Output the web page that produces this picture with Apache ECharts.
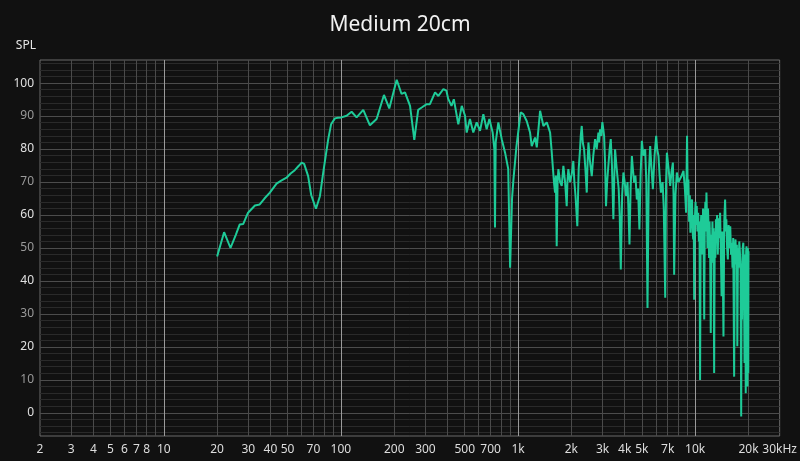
<!DOCTYPE html>
<html>
<head>
<meta charset="utf-8">
<script src="https://cdn.jsdelivr.net/npm/echarts@6/dist/echarts.min.js"></script>
<style>
html,body{margin:0;padding:0;background:#111111;}
#chart{width:800px;height:461px;}
</style>
</head>
<body>
<div id="chart"></div>
<script>
var chartTitle = 'Medium 20cm';
var yName = 'SPL';
var xLabelValues = [2,3,4,5,6,7,8,10,20,30,40,50,70,100,200,300,500,700,1000,2000,3000,4000,5000,7000,10000,20000,30000];
var xGridValues = [3,4,5,6,7,8,9,10,20,30,40,50,60,70,80,90,100,200,300,400,500,600,700,800,900,1000,2000,3000,4000,5000,6000,7000,8000,9000,10000,20000];
var xDecadeValues = [10,100,1000,10000];
var yMajorValues = [0,10,20,30,40,50,60,70,80,90,100];
var yMinorValues = [-6,-4,-2,2,4,6,8,12,14,16,18,22,24,26,28,32,34,36,38,42,44,46,48,52,54,56,58,62,64,66,68,72,74,76,78,82,84,86,88,92,94,96,98,102,104,106];

var freq = [20,21.9,23.8,25.5,26.8,28.1,29.9,32.7,34.8,37,39.7,43.3,46,49.3,52,54.9,58,60,62,65.3,68,72.3,76.1,80,84.8,88,92.5,96,100.7,107.7,114.9,122.6,133.7,145.8,159,175,187.5,206.5,220,230,245.6,259.6,273,285.8,305,318,340,355,379,394,403,421,434,460,481,502,513,535,559,584,610,637,665,689,719,735,741,748,774,809,845,880,902,925,942,980,1035,1071,1119,1169,1195,1248,1276,1332,1391,1453,
1517,1545,1570,1595,1618,1635,1653,1672,1690,1728,1765,1785,1803,1843,1883,1900,1923,1965,2008,2030,2051,2080,2110,2161,2200,2239,2260,2289,2320,2360,2400,2443,2470,2497,2550,2608,2660,2723,2780,2843,2870,2904,2950,2993,3030,3061,3100,3138,3185,3235,3290,3338,3390,3453,3490,3530,3580,3639,3700,3750,3803,3870,3935,4000,4077,4150,4200,4258,4320,4393,4450,4522,4600,4684,4760,4845,4920,5000,5100,5222,5300,5382,5470,5572,5670,5770,5900,6024,6100,6209,6300,6408,6550,6650,6776,6850,6925,7080,7230,7350,7485,7550,7610,7740,7880,8050,8230,8400,8590,8750,8890,
9000,9080,9160,9250,9330,9400,9500,9600,9680,9750,9820,9870,9950,10050,10130,10210,10300,10400,10500,10580,10660,10740,10820,10900,11000,11080,11160,11250,11330,11420,11500,11580,11660,11740,11820,11900,11980,12060,12150,12250,12340,12420,12520,12600,12700,12800,12900,13000,13100,13200,13300,13420,13550,13700,13830,13950,14100,14250,14450,14600,14760,14900,15000,15150,15300,15450,15600,15780,15950,16100,16250,16400,16600,16750,16900,17050,17200,17300,17450,17600,17750,17930,18050,18190,18300,18400,18550,18700,18850,19000,19150,19300,19400,19500,19650,19750,19850,19950,20000];
var spl = [47.4,54.8,50,54,57.1,57.3,60.7,62.9,63.2,65,66.8,69.5,70.4,71.3,72.6,73.6,75,75.9,75.5,71.8,66,61.9,65.7,74,83,87.5,89.3,89.5,89.6,90.1,91.3,89.6,91.9,87.2,89.1,96.4,92.3,101,96.7,97.2,93.1,82.8,91.9,92.6,93.6,93.6,97.2,96.1,98.2,97.7,95.3,93.1,95.1,87.5,93.1,90.1,85,89.1,85,88.1,85.5,90.6,86,89.1,85,80,56.2,82,88.1,83,78.9,74,44,65,70.8,80.9,91.1,90.6,88.5,85,80.9,83.5,80.5,91.6,87,88.1,
85,80,74.9,70,66.8,72,50.5,70,73.9,70,68.8,72,74.9,70,62.7,70,73.9,70,72.3,74,76.4,70,66,56.6,74,79.9,84,87,82,79.9,74,66.8,76,82,76,71.8,78,83,80,85,82,86,84,88.2,86,84,76,62.7,70,74.9,80,83,75,58.7,70,79.9,76,71.8,68,60,43.5,66,72.9,70,65.7,70,62,51.1,68,77.9,74,69.8,72,64.7,68,55.6,72,82.5,78,79.9,70,31.8,72,80.9,74,67.8,78,84,80,77.9,72,66.8,70,62,34.9,70,78.9,74,68.8,73,75.9,66,41.9,66,72.9,70,69.8,72,73.4,68,60.7,
84,66,70.8,58,66,54.6,63,64.7,55,52.6,60,34.3,58,64,57,62.7,55,60.7,52,58,10,55,60,56.6,48,62,52,28.3,58,64,55,66.8,60,50,62,56.6,47,58,50,24.2,54,45.5,58,50,56,12.1,55,47,58.7,52,60,48,59,53,60.7,50,35.4,55,23.2,58,64.7,55,58.7,50,46.5,57,50,56.6,48,51.6,44,53,11,50,52.6,45,51,20.2,50,44,52,52.6,45,-1.1,40,28.3,50,51.6,42,15.1,48,6,49,50.5,44,8,50,12.1,49];

var points = freq.map(function(f, i){ return [f, spl[i]]; });

var chart = echarts.init(document.getElementById('chart'), null, {renderer:'canvas'});
var baseFont = 'Noto Sans, Open Sans, sans-serif';
chart.setOption({
  backgroundColor: '#111111',
  animation: false,
  title: {
    text: chartTitle,
    left: 'center',
    top: 10,
    textStyle: {color: '#f2f2f2', fontSize: 21, fontWeight: 'normal', fontFamily: baseFont}
  },
  grid: {left: 40, right: 20, top: 60, bottom: 25, show: true, borderColor: '#6a6a6a', borderWidth: 1, backgroundColor: 'transparent'},
  xAxis: [{
    type: 'log', logBase: 10, min: 2, max: 30000,
    axisLine: {show: false},
    axisTick: {show: false, customValues: xGridValues},
    splitLine: {show: true, lineStyle: {color: '#4a4a4a', width: 1}},
    axisLabel: {
      customValues: xLabelValues,
      color: '#dddddd', fontSize: 12, margin: 8, fontFamily: baseFont,
      formatter: function(v){
        if (v >= 30000) return '30kHz';
        if (v >= 1000) return (v/1000) + 'k';
        return String(v);
      }
    }
  },{
    type: 'log', logBase: 10, min: 2, max: 30000,
    axisLine: {show: false},
    axisTick: {show: false, customValues: xDecadeValues},
    axisLabel: {show: false},
    splitLine: {show: true, lineStyle: {color: '#9a9a9a', width: 1}}
  }],
  yAxis: [{
    type: 'value', min: -7, max: 107,
    name: yName,
    nameLocation: 'end',
    nameGap: 8,
    nameTextStyle: {color: '#e6e6e6', fontSize: 12, align: 'right', padding: [0, 4, 0, 0], fontFamily: baseFont},
    axisLine: {show: false},
    axisTick: {show: false, customValues: yMajorValues},
    splitLine: {show: true, lineStyle: {color: '#4c4c4c', width: 1}},
    axisLabel: {
      customValues: yMajorValues,
      margin: 6, fontSize: 12, fontFamily: baseFont,
      formatter: function(v){ return (v % 20 === 0) ? '{a|' + v + '}' : '{b|' + v + '}'; },
      rich: {a: {color: '#e0e0e0', fontSize: 12, fontFamily: baseFont}, b: {color: '#9a9a9a', fontSize: 12, fontFamily: baseFont}}
    }
  },{
    type: 'value', min: -7, max: 107,
    position: 'left',
    axisLine: {show: false},
    axisTick: {show: false, customValues: yMinorValues},
    axisLabel: {show: false},
    splitLine: {show: true, lineStyle: {color: '#2a2a2a', width: 1}}
  }],
  series: [{
    type: 'line',
    data: points,
    xAxisIndex: 0,
    yAxisIndex: 0,
    showSymbol: false,
    symbol: 'none',
    smooth: false,
    lineStyle: {color: '#1ecb98', width: 2},
    z: 10
  }]
});
</script>
</body>
</html>
